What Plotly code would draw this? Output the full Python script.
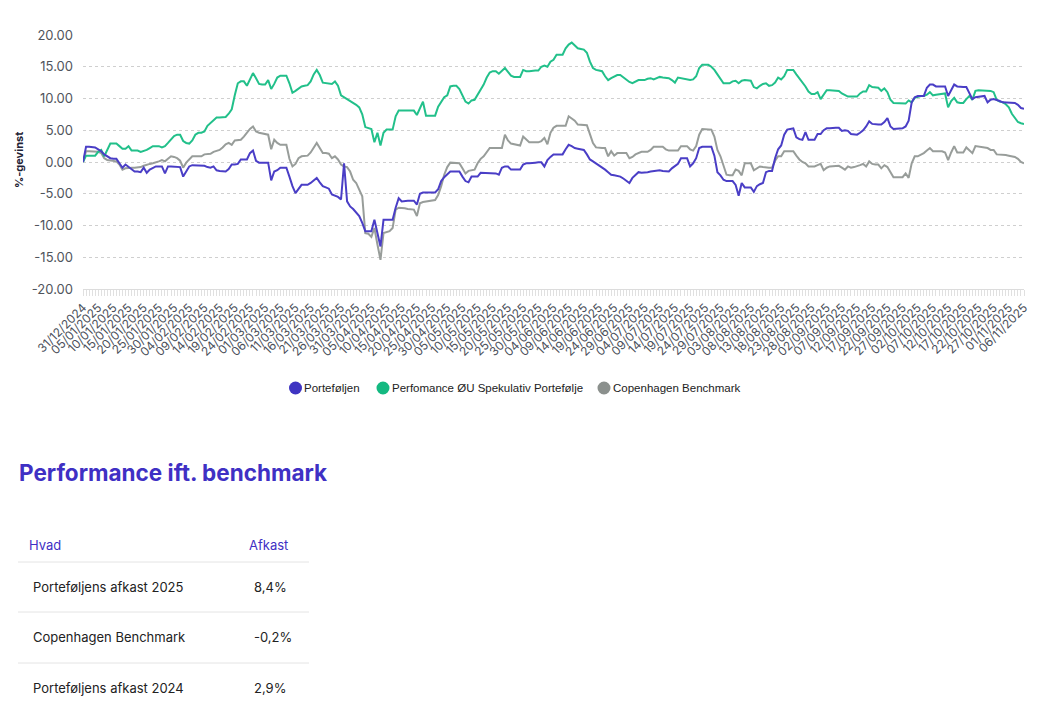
import pandas as pd
import plotly.graph_objects as go

# ---------------- data ----------------
dates = list(pd.date_range("2024-12-31", "2025-11-06", freq="D").strftime("%d/%m/%Y"))

portefoljen = [
    0.0, 2.4, 2.4, 2.3, 2.3, 2.0, 1.7, 1.2, 0.9, 0.6,
    0.5, 0.5, -0.2, -0.9, -0.4, -0.8, -1.2, -1.5, -1.5, -1.6,
    -0.9, -1.7, -1.2, -0.9, -0.7, -0.7, -0.7, -1.8, -0.7, -0.7,
    -0.7, -0.7, -0.8, -2.3, -1.5, -0.7, -0.5, -0.5, -0.5, -0.5,
    -0.6, -0.8, -0.9, -0.7, -1.3, -1.4, -1.5, -1.5, -1.1, -0.4,
    -0.4, -0.3, 0.4, 0.4, 0.4, 1.4, 1.8, 0.2, -0.1, -0.1,
    -0.1, -0.1, -2.9, -1.5, -1.3, -0.9, -0.9, -0.9, -2.3, -3.8,
    -4.9, -4.3, -3.6, -3.6, -3.6, -3.3, -2.9, -2.5, -3.2, -3.8,
    -4.0, -4.2, -5.1, -5.3, -5.5, -5.9, -0.2, -6.2, -7.0, -7.4,
    -7.9, -8.5, -9.6, -10.9, -10.9, -10.9, -9.1, -11.0, -13.3, -9.1,
    -9.1, -9.1, -9.1, -7.2, -5.7, -6.2, -6.1, -6.1, -6.1, -6.1,
    -6.7, -5.0, -4.8, -4.8, -4.8, -4.8, -4.8, -4.3, -3.0, -2.4,
    -2.0, -1.5, -1.5, -1.5, -1.5, -2.3, -3.0, -3.2, -2.3, -2.3,
    -2.3, -1.7, -1.7, -1.8, -1.8, -1.8, -1.8, -2.0, -0.9, -0.7,
    -0.7, -1.2, -1.2, -1.2, -1.2, -0.4, -0.2, -0.2, -0.1, -0.1,
    -0.05, -0.05, -0.7, 0.3, 0.8, 1.2, 1.2, 1.2, 1.2, 2.0,
    2.7, 2.5, 2.2, 2.1, 2.0, 1.9, 1.2, 0.4, 0.1, -0.2,
    -0.5, -0.8, -1.2, -1.6, -2.0, -2.1, -2.2, -2.3, -2.6, -3.0,
    -3.3, -2.5, -2.0, -1.6, -1.7, -1.7, -1.6, -1.5, -1.4, -1.3,
    -1.3, -1.4, -1.5, -1.5, -1.0, -0.7, -0.3, 0.6, 0.6, 0.6,
    -0.7, -0.2, 0.6, 2.2, 2.4, 2.4, 2.4, 2.4, 1.0, -1.6,
    -2.1, -2.8, -3.0, -3.0, -3.0, -3.6, -5.3, -3.3, -4.0, -4.0,
    -4.0, -4.7, -3.8, -3.5, -3.3, -1.6, -1.4, -1.4, 0.6, 2.0,
    2.6, 4.3, 5.1, 5.2, 5.3, 3.9, 3.6, 3.5, 4.7, 3.5,
    3.5, 3.5, 4.4, 4.4, 5.0, 5.3, 5.3, 5.4, 5.4, 5.4,
    4.9, 5.0, 4.9, 4.4, 4.3, 4.3, 4.6, 5.0, 5.6, 6.4,
    6.0, 5.9, 5.9, 5.9, 6.3, 6.9, 5.6, 5.2, 5.2, 5.2,
    5.3, 5.6, 6.5, 9.4, 10.2, 10.4, 10.4, 10.4, 11.7, 12.2,
    12.2, 11.9, 11.9, 11.9, 11.9, 10.4, 11.4, 12.2, 11.9, 11.8,
    11.8, 11.8, 10.9, 9.9, 10.2, 10.3, 10.4, 10.4, 9.4, 9.8,
    9.9, 9.8, 9.6, 9.4, 9.4, 9.3, 9.3, 9.3, 9.0, 8.5,
    8.4,
]

spekulativ = [
    0.0, 1.0, 1.0, 1.0, 1.0, 1.6, 1.9, 0.9, 1.9, 2.9,
    2.9, 2.9, 2.5, 2.1, 2.1, 2.5, 1.8, 1.8, 1.8, 1.6,
    1.7, 1.9, 2.2, 2.5, 2.5, 2.5, 2.3, 2.5, 3.0, 3.5,
    4.1, 4.3, 4.3, 3.3, 3.0, 2.9, 3.4, 4.3, 4.6, 4.6,
    4.8, 5.7, 6.1, 6.5, 7.0, 7.0, 7.1, 7.1, 7.6, 8.3,
    10.5, 12.4, 12.7, 12.7, 12.0, 12.9, 14.0, 13.2, 12.3, 12.2,
    12.2, 12.9, 11.5, 12.3, 13.3, 13.6, 13.6, 13.6, 12.4, 10.9,
    11.2, 11.6, 11.9, 12.0, 12.1, 12.7, 13.8, 14.5, 13.7, 12.5,
    12.4, 12.3, 12.3, 12.7, 12.0, 10.5, 10.2, 10.0, 9.6, 9.3,
    9.0, 8.6, 7.5, 5.5, 5.3, 5.2, 3.1, 4.6, 2.6, 4.6,
    5.1, 5.1, 5.1, 7.2, 8.1, 8.1, 8.1, 8.1, 8.1, 8.1,
    7.4, 8.5, 9.5, 7.3, 7.3, 7.3, 7.3, 8.7, 9.5, 10.2,
    10.5, 11.9, 12.0, 12.0, 11.5, 10.5, 9.5, 9.2, 9.7, 9.8,
    10.6, 11.3, 12.2, 13.3, 14.1, 14.3, 14.3, 13.9, 14.3, 14.8,
    14.2, 13.6, 13.4, 13.4, 13.4, 14.5, 14.3, 14.3, 14.4, 14.4,
    14.4, 15.0, 15.2, 15.0, 15.8, 16.1, 16.9, 16.9, 16.9, 17.9,
    18.5, 18.8, 18.4, 17.9, 17.8, 17.7, 17.2, 15.8, 14.8, 14.5,
    14.4, 14.3, 13.5, 12.9, 13.2, 13.4, 13.7, 13.7, 13.3, 12.9,
    12.6, 12.4, 12.6, 12.9, 12.9, 12.9, 13.1, 13.2, 13.0, 13.2,
    13.4, 13.3, 13.2, 13.2, 12.9, 12.5, 13.3, 13.2, 13.1, 13.0,
    12.9, 13.0, 13.5, 14.8, 15.3, 15.3, 15.3, 15.0, 14.5, 13.8,
    13.0, 12.4, 12.4, 12.4, 12.7, 12.8, 12.4, 12.8, 12.9, 12.9,
    12.8, 11.8, 11.6, 12.0, 12.3, 12.4, 12.0, 12.1, 12.5, 13.3,
    13.0, 13.5, 14.5, 14.5, 14.5, 13.8, 13.2, 12.5, 11.9, 11.1,
    10.7, 10.7, 11.0, 9.9, 10.6, 11.3, 11.3, 11.3, 11.2, 11.2,
    10.8, 10.5, 10.3, 10.3, 10.3, 10.3, 10.8, 11.1, 11.1, 12.1,
    11.8, 11.7, 11.7, 11.2, 11.6, 11.0, 9.8, 9.3, 9.3, 9.2,
    9.2, 9.2, 9.7, 9.4, 10.1, 10.3, 10.4, 10.4, 10.6, 11.0,
    10.5, 10.6, 10.7, 10.7, 10.8, 8.6, 9.6, 10.1, 9.4, 9.3,
    9.3, 9.9, 10.4, 9.8, 11.2, 11.3, 11.3, 11.3, 11.3, 11.2,
    11.0, 9.8, 9.5, 9.4, 9.1, 8.6, 7.6, 6.9, 6.3, 6.1,
    6.0,
]

benchmark = [
    0.0, 1.7, 1.7, 1.7, 1.7, 1.6, 1.4, 0.6, 0.3, 0.2,
    0.1, 0.1, -0.4, -1.2, -1.0, -0.9, -0.9, -0.9, -0.9, -0.8,
    -0.6, -0.4, -0.3, -0.2, -0.1, 0.1, 0.3, 0.1, 0.5, 0.9,
    0.8, 0.6, 0.2, -0.9, -0.1, 0.4, 0.9, 0.9, 0.9, 0.9,
    1.2, 1.3, 1.3, 1.6, 1.8, 1.9, 2.3, 2.8, 3.0, 2.7,
    3.4, 3.4, 3.5, 4.0, 4.6, 5.2, 5.6, 4.8, 4.6, 4.5,
    4.5, 4.3, 2.0, 3.5, 3.0, 2.7, 2.7, 2.7, 0.5, -0.7,
    -0.3, 0.6, 0.9, 1.0, 1.0, 1.5, 2.2, 3.0, 2.2, 1.4,
    1.4, 1.3, 0.6, 0.9, 0.4, -0.4, -0.7, -0.8, -1.5, -2.8,
    -3.3, -4.5, -5.4, -11.2, -11.3, -11.8, -10.4, -13.0, -15.4, -11.2,
    -11.0, -10.9, -10.4, -7.5, -7.2, -7.2, -7.3, -7.4, -7.5, -7.5,
    -8.5, -6.5, -6.3, -6.2, -6.1, -6.0, -6.0, -5.2, -3.8, -2.0,
    -0.8, -0.1, -0.1, -0.1, -0.2, -1.0, -1.8, -1.4, -1.3, -1.2,
    -0.2, 0.5, 0.9, 1.6, 2.2, 2.2, 2.2, 2.2, 2.2, 4.3,
    3.4, 2.9, 2.8, 2.7, 2.6, 4.0, 3.6, 3.1, 3.1, 3.1,
    3.1, 3.3, 3.8, 2.8, 4.6, 5.4, 5.7, 5.7, 5.7, 5.7,
    7.2, 6.9, 6.5, 5.9, 5.9, 5.9, 5.8, 4.4, 3.0, 2.3,
    2.2, 2.2, 2.2, 0.9, 1.7, 1.0, 1.4, 1.4, 1.4, 1.4,
    0.6, 0.8, 1.2, 1.4, 1.6, 1.6, 1.6, 1.9, 2.4, 2.4,
    2.4, 2.4, 2.0, 1.8, 1.8, 1.8, 1.8, 2.5, 2.5, 2.5,
    2.0, 1.8, 2.5, 4.3, 5.2, 5.2, 5.2, 5.1, 4.0, 1.9,
    0.9, -0.7, -2.0, -2.1, -2.1, -1.2, -1.4, -2.1, -0.2, -0.2,
    -0.2, -1.3, -1.0, -0.7, -0.8, -0.9, -0.9, -0.9, 0.2, 0.9,
    0.9, 1.7, 1.7, 1.7, 1.7, 1.0, 0.4, 0.0, -0.2, -0.7,
    -0.7, -0.7, -0.5, -0.3, -1.3, -0.9, -0.7, -0.7, -0.6, -0.6,
    -0.9, -1.2, -0.7, -0.9, -0.8, -0.7, -0.5, -0.3, -0.7, 0.1,
    -0.3, -0.4, -0.4, -1.0, -0.5, -0.8, -1.5, -2.4, -2.4, -2.4,
    -2.4, -1.8, -2.5, -0.2, 0.9, 0.9, 1.1, 1.4, 1.8, 2.2,
    1.7, 1.7, 1.7, 1.7, 1.5, 0.3, 1.5, 2.5, 1.5, 1.5,
    1.5, 2.3, 1.8, 1.4, 2.5, 2.4, 2.3, 2.3, 2.2, 1.9,
    1.9, 1.2, 1.2, 1.2, 1.1, 1.0, 0.9, 0.8, 0.5, 0.0,
    -0.2,
]

series_names = ["Porteføljen", "Perfomance ØU Spekulativ Portefølje", "Copenhagen Benchmark"]
y_ticks = [-20, -15, -10, -5, 0, 5, 10, 15, 20]
y_ticktext = [f"{v:.2f}" for v in y_ticks]
x_ticktext = [d if i % 5 == 0 else "" for i, d in enumerate(dates)]

table_title = "Performance ift. benchmark"
table_header = ["Hvad", "Afkast"]
table_rows = ["Porteføljens afkast 2025", "Copenhagen Benchmark", "Porteføljens afkast 2024"]
table_values = ["8,4%", "-0,2%", "2,9%"]

assert len(dates) == len(portefoljen) == len(spekulativ) == len(benchmark)

# ---------------- layout geometry ----------------
# the page body adds an 8px margin, so the figure is 8px smaller on each axis
OFF = 8
W, H = 1043 - OFF, 706 - 2 * OFF
ML, MR, MT = 83 - OFF, 19, 35 - OFF
PLOT_BOTTOM = 289 - OFF
MB = H - PLOT_BOTTOM
PW, PH = W - ML - MR, PLOT_BOTTOM - MT

LINE_COLORS = ["#4a3ec6", "#22c08a", "#989d9a"]
DOT_COLORS = ["#3f34c2", "#14b981", "#8b908d"]
PURPLE_TXT = "#3f30c4"


def px2x(px):
    """reference-screenshot x pixel -> paper x"""
    return (px - OFF - ML) / PW


def py2y(py):
    """reference-screenshot y pixel -> paper y"""
    return (PLOT_BOTTOM - (py - OFF)) / PH


fig = go.Figure()

# lines (benchmark underneath, portfolio on top)
for name, vals, col in [
    (series_names[2], benchmark, LINE_COLORS[2]),
    (series_names[1], spekulativ, LINE_COLORS[1]),
    (series_names[0], portefoljen, LINE_COLORS[0]),
]:
    fig.add_trace(go.Scatter(x=dates, y=vals, mode="lines", name=name,
                             line=dict(color=col, width=2), showlegend=False))

fig.update_layout(
    width=W, height=H,
    margin=dict(l=ML, r=MR, t=MT, b=MB, autoexpand=False),
    paper_bgcolor="white", plot_bgcolor="white",
    font=dict(family="Inter, Liberation Sans, sans-serif", color="#333"),
    showlegend=False,
    xaxis=dict(type="category", range=[0, len(dates) - 1],
               tickmode="array", tickvals=dates, ticktext=x_ticktext,
               tickangle=-45, tickfont=dict(size=12, color="#4a4f5a"),
               ticks="outside", ticklen=6, tickcolor="#e0e0e0", tickwidth=1,
               showline=True, linecolor="#dcdcdc", linewidth=1,
               showgrid=False, zeroline=False),
    yaxis=dict(range=[-20, 20], tickmode="array", tickvals=y_ticks, ticktext=y_ticktext,
               tickfont=dict(size=13, color="#50545c"),
               showgrid=True, gridcolor="#cfcfcf", griddash="dot", gridwidth=1,
               zeroline=False, showline=False, ticks="", ticklabelstandoff=9),
)

annotations = [
    dict(text="<b>%-gevinst</b>", xref="paper", yref="paper",
         x=px2x(19), y=py2y(160), textangle=-90, showarrow=False,
         font=dict(size=11, color="#1e2235", family="Inter"),
         xanchor="center", yanchor="middle"),
    dict(text="<b>" + table_title + "</b>", xref="paper", yref="paper",
         x=px2x(17), y=py2y(472), showarrow=False, xanchor="left", yanchor="middle",
         font=dict(size=22.5, color=PURPLE_TXT, family="Inter")),
    dict(text=table_header[0], xref="paper", yref="paper",
         x=px2x(27), y=py2y(545), showarrow=False, xanchor="left", yanchor="middle",
         font=dict(size=13, color=PURPLE_TXT, family="Inter")),
    dict(text=table_header[1], xref="paper", yref="paper",
         x=px2x(247), y=py2y(545), showarrow=False, xanchor="left", yanchor="middle",
         font=dict(size=13, color=PURPLE_TXT, family="Inter")),
]
row_y = [587, 637, 688]
for label, val, yy in zip(table_rows, table_values, row_y):
    annotations.append(dict(text=label, xref="paper", yref="paper",
                            x=px2x(31), y=py2y(yy), showarrow=False,
                            xanchor="left", yanchor="middle",
                            font=dict(size=13, color="#222", family="Inter")))
    annotations.append(dict(text=val, xref="paper", yref="paper",
                            x=px2x(252), y=py2y(yy), showarrow=False,
                            xanchor="left", yanchor="middle",
                            font=dict(size=13, color="#222", family="Inter")))

# legend: round dots + labels
legend_dot_x = [295.5, 383, 604]
legend_txt_x = [304, 392, 613]
LEG_Y = 388
for name, col, dx, tx in zip(series_names, DOT_COLORS, legend_dot_x, legend_txt_x):
    fig.add_shape(type="circle", xref="paper", yref="paper",
                  xsizemode="pixel", ysizemode="pixel",
                  xanchor=px2x(dx), yanchor=py2y(LEG_Y),
                  x0=-6.5, x1=6.5, y0=-6.5, y1=6.5,
                  fillcolor=col, line=dict(width=0))
    annotations.append(dict(text=name, xref="paper", yref="paper",
                            x=px2x(tx - 2), y=py2y(LEG_Y), showarrow=False,
                            xanchor="left", yanchor="middle",
                            font=dict(size=11.5, color="#222",
                                      family="Liberation Sans, Arial")))

fig.update_layout(annotations=annotations)

for yy in [562, 612, 663]:
    fig.add_shape(type="line", xref="paper", yref="paper",
                  x0=px2x(18), x1=px2x(309), y0=py2y(yy), y1=py2y(yy),
                  line=dict(color="#e4e4e4", width=1))

fig.write_html("out.html")
